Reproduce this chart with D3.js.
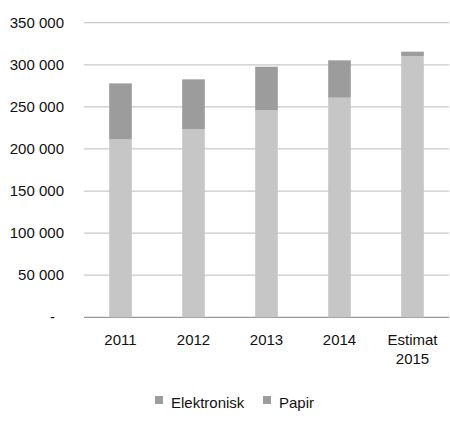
<!DOCTYPE html>
<html><head><meta charset="utf-8">
<script src="https://cdn.jsdelivr.net/npm/d3@7"></script>
<style>body{margin:0;background:#fff}text{font-family:"Liberation Sans",Arial,sans-serif;fill:#111}</style>
</head><body><svg id="c" width="450" height="428"></svg>
<script>
const categories = [["2011"],["2012"],["2013"],["2014"],["Estimat","2015"]];
const elektronisk = [211400, 223700, 245900, 260900, 310400];
const papir = [66500, 59000, 51800, 44400, 5200];
const yTicks = [0,50000,100000,150000,200000,250000,300000,350000];
const seriesNames = ["Elektronisk","Papir"];

const svg = d3.select("#c");
const x = d3.scaleBand().domain(d3.range(categories.length)).range([84,449]).paddingInner(0.69).paddingOuter(0.345);
const y = d3.scaleLinear().domain([0,350000]).range([317.3,22.7]);
const fmt = v => v===0 ? "-" : d3.format(",")(v).replace(/,/g," ");

svg.append("g").selectAll("line").data(yTicks).join("line")
  .attr("x1",84).attr("x2",449).attr("y1",d=>y(d)).attr("y2",d=>y(d))
  .attr("stroke",d=>d===0?"#999":"#c8c8c8").attr("stroke-width",1.2);
svg.append("g").selectAll("text").data(yTicks).join("text")
  .attr("x",d=>d===0?55:64).attr("y",d=>y(d)+5).attr("text-anchor","end")
  .attr("font-size",15).text(fmt);

const g = svg.append("g");
g.selectAll(".e").data(elektronisk).join("rect")
  .attr("x",(d,i)=>x(i)).attr("width",x.bandwidth())
  .attr("y",d=>y(d)).attr("height",d=>y(0)-y(d)).attr("fill","#c6c6c6");
g.selectAll(".p").data(papir).join("rect")
  .attr("x",(d,i)=>x(i)).attr("width",x.bandwidth())
  .attr("y",(d,i)=>y(d+elektronisk[i])).attr("height",(d,i)=>y(elektronisk[i])-y(d+elektronisk[i])).attr("fill","#9c9c9c");

categories.forEach((lines,i)=>{
  const t = svg.append("text").attr("text-anchor","middle").attr("font-size",15);
  lines.forEach((l,j)=>t.append("tspan").attr("x",x(i)+x.bandwidth()/2).attr("y",345+j*19).text(l));
});

const leg = svg.append("g");
const lx = [155, 263];
seriesNames.forEach((n,i)=>{
  leg.append("rect").attr("x",lx[i]).attr("y",396).attr("width",8).attr("height",8).attr("fill","#9c9c9c");
  leg.append("text").attr("x",lx[i]+16).attr("y",408).attr("font-size",15).text(n);
});
</script></body></html>
